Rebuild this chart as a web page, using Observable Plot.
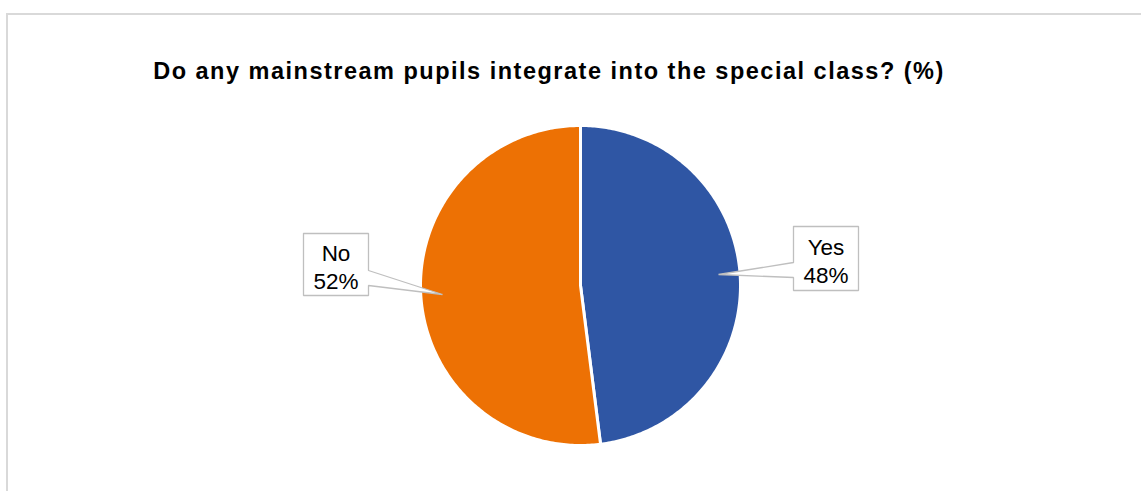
<!DOCTYPE html>
<html>
<head>
<meta charset="utf-8">
<script src="https://cdn.jsdelivr.net/npm/d3@7"></script>
<script src="https://cdn.jsdelivr.net/npm/@observablehq/plot@0.6"></script>
<style>
  html, body { margin: 0; padding: 0; background: #fff; width: 1141px; height: 491px; overflow: hidden; }
  #wrap { position: relative; width: 1141px; height: 491px; }
  #border { position: absolute; left: 6px; top: 13px; width: 1200px; height: 600px;
            border-left: 2px solid #d9d9d9; border-top: 2px solid #d9d9d9; box-sizing: border-box; }
  #chart { position: absolute; left: 0; top: 0; }
  svg { font-family: "Liberation Sans", Arial, sans-serif; }
</style>
</head>
<body>
<div id="wrap"><div id="border"></div><div id="chart"></div></div>
<script>
// ---- data ----
const title = "Do any mainstream pupils integrate into the special class? (%)";
const categories = ["Yes", "No"];
const values = [48, 52];
const colors = ["#2F56A4", "#ED7104"];

// ---- layout (pixels) ----
const W = 1141, H = 491;
const cx = 580, cy = 285, R = 160;
// label callouts, in px relative to pie centre (y down)
const callouts = {
  Yes: {box: [213, 278, -59, 5], notch: [-23, -8], side: "left", tip: [138, -11]},
  No:  {box: [-277, -212, -52, 10], notch: [-15, 0], side: "right", tip: [-138, 9]}
};

const total = d3.sum(values);
const slices = [];
let acc = 0;
categories.forEach((c, i) => {
  const a0 = acc / total * 2 * Math.PI;
  acc += values[i];
  const a1 = acc / total * 2 * Math.PI;
  slices.push({cat: c, value: values[i], color: colors[i], a0, a1});
});

// convert px offset (y down) to data units (y up)
const U = ([px, py]) => ({x: px / R, y: -py / R});

function slicePoints(s) {
  const pts = [{x: 0, y: 0}];
  const n = 240;
  for (let k = 0; k <= n; k++) {
    const a = s.a0 + (s.a1 - s.a0) * k / n;
    pts.push({x: Math.sin(a), y: Math.cos(a)});
  }
  pts.push({x: 0, y: 0});
  return pts;
}

function calloutPoints(c) {
  const [x0, x1, y0, y1] = c.box;
  let p;
  if (c.side === "left") {
    p = [[x0, y0], [x1, y0], [x1, y1], [x0, y1], [x0, c.notch[1]], c.tip, [x0, c.notch[0]], [x0, y0]];
  } else {
    p = [[x0, y0], [x1, y0], [x1, c.notch[0]], c.tip, [x1, c.notch[1]], [x1, y1], [x0, y1], [x0, y0]];
  }
  return p.map(U);
}

const marks = [];
slices.forEach(s => {
  marks.push(Plot.line(slicePoints(s), {x: "x", y: "y", fill: s.color, stroke: "white", strokeWidth: 3, strokeLinejoin: "round"}));
});
const labels = [];
slices.forEach(s => {
  const c = callouts[s.cat];
  marks.push(Plot.line(calloutPoints(c), {x: "x", y: "y", fill: "white", stroke: "#bfbfbf", strokeWidth: 1.3, strokeLinejoin: "miter"}));
  const ctr = U([(c.box[0] + c.box[1]) / 2, (c.box[2] + c.box[3]) / 2 + 2]);
  labels.push({x: ctr.x, y: ctr.y, text: s.cat + "\n" + Math.round(s.value / total * 100) + "%"});
});
marks.push(Plot.text(labels, {x: "x", y: "y", text: "text", fontSize: 22.5, lineHeight: 1.245, fill: "#000", textAnchor: "middle", lineAnchor: "middle"}));
marks.push(Plot.text([title], {frameAnchor: "top", dx: -22, dy: 62, lineAnchor: "top", fontSize: 23.5, fontWeight: "bold", fill: "#000"}));

const chart = Plot.plot({
  width: W, height: H, margin: 0,
  x: {domain: [-cx / R, (W - cx) / R], axis: null},
  y: {domain: [-(H - cy) / R, cy / R], axis: null},
  style: {background: "transparent", fontFamily: "'Liberation Sans', Arial, sans-serif"},
  marks
});
d3.select(chart).selectAll("text")
  .filter(function () { return this.textContent === title; })
  .style("letter-spacing", "1.5px");
document.getElementById("chart").appendChild(chart);
</script>
</body>
</html>
